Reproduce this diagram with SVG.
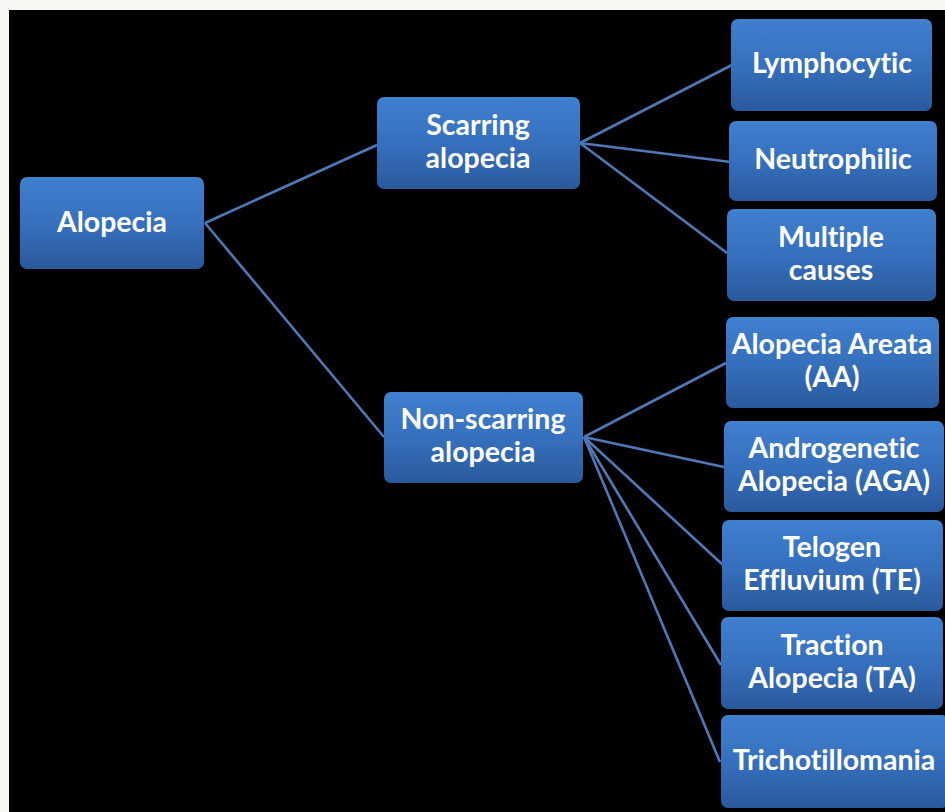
<svg xmlns="http://www.w3.org/2000/svg" width="945" height="812" viewBox="0 0 945 812">
<defs>
<linearGradient id="g" x1="0" y1="0" x2="0" y2="1">
<stop offset="0" stop-color="#3f80cf"/>
<stop offset="0.5" stop-color="#3670bd"/>
<stop offset="1" stop-color="#2a599d"/>
</linearGradient>
</defs>
<style>
.box{fill:url(#g);}
.t{font-family:Lato,"Open Sans","Liberation Sans",sans-serif;font-weight:bold;font-size:28.5px;fill:#ffffff;text-anchor:middle;font-variant-ligatures:none;}
.c{stroke:#4f79b6;stroke-width:2.6;fill:none;}
</style>
<rect x="0" y="0" width="945" height="812" fill="#f7f7f4"/>
<rect x="9" y="10" width="936" height="802" fill="#000000"/>
<g id="connectors">
<line class="c" x1="205" y1="223" x2="377" y2="145"/>
<line class="c" x1="205" y1="223" x2="384" y2="437"/>
<line class="c" x1="580" y1="143" x2="732" y2="65"/>
<line class="c" x1="580" y1="143" x2="731" y2="162"/>
<line class="c" x1="580" y1="143" x2="727" y2="253"/>
<line class="c" x1="584" y1="437" x2="726" y2="363"/>
<line class="c" x1="584" y1="437" x2="724" y2="467"/>
<line class="c" x1="584" y1="437" x2="723" y2="565"/>
<line class="c" x1="584" y1="437" x2="721" y2="665"/>
<line class="c" x1="584" y1="437" x2="720" y2="762"/>
</g>
<g id="alopecia">
<rect class="box" x="20" y="177" width="184" height="92" rx="7"/>
<text class="t" x="112" y="232">Alopecia</text>
</g>
<g id="scarring">
<rect class="box" x="377" y="97" width="203" height="92" rx="7"/>
<text class="t" x="478" y="135">Scarring</text>
<text class="t" x="478" y="168">alopecia</text>
</g>
<g id="nonscarring">
<rect class="box" x="384" y="392" width="199" height="91" rx="7"/>
<text class="t" x="483" y="429">Non-scarring</text>
<text class="t" x="483" y="462">alopecia</text>
</g>
<g id="lymphocytic">
<rect class="box" x="731" y="19" width="201" height="92" rx="7"/>
<text class="t" x="832" y="73">Lymphocytic</text>
</g>
<g id="neutrophilic">
<rect class="box" x="729" y="121" width="208" height="80" rx="7"/>
<text class="t" x="833" y="169">Neutrophilic</text>
</g>
<g id="multiple">
<rect class="box" x="727" y="209" width="209" height="92" rx="7"/>
<text class="t" x="831" y="247">Multiple</text>
<text class="t" x="831" y="280">causes</text>
</g>
<g id="aa">
<rect class="box" x="726" y="317" width="213" height="91" rx="7"/>
<text class="t" x="832" y="354">Alopecia Areata</text>
<text class="t" x="832" y="387">(AA)</text>
</g>
<g id="aga">
<rect class="box" x="724" y="421" width="220" height="91" rx="7"/>
<text class="t" x="834" y="458">Androgenetic</text>
<text class="t" x="834" y="491">Alopecia (AGA)</text>
</g>
<g id="te">
<rect class="box" x="722" y="520" width="221" height="91" rx="7"/>
<text class="t" x="832" y="557">Telogen</text>
<text class="t" x="832" y="590">Effluvium (TE)</text>
</g>
<g id="ta">
<rect class="box" x="721" y="617" width="222" height="92" rx="7"/>
<text class="t" x="832" y="655">Traction</text>
<text class="t" x="832" y="688">Alopecia (TA)</text>
</g>
<g id="trich">
<rect class="box" x="721" y="715" width="228" height="93" rx="7"/>
<text class="t" x="834" y="770">Trichotillomania</text>
</g>
</svg>
